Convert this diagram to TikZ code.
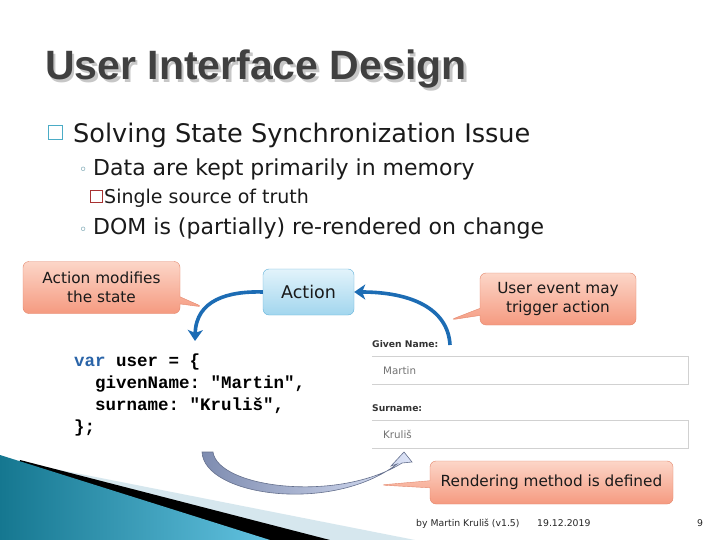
\documentclass[tikz,border=0pt]{standalone}
\usepackage{fontspec}
\setmainfont{DejaVu Sans}
\setmonofont{Liberation Mono}
\newfontfamily\titlefont{Liberation Sans}
\usetikzlibrary{shapes.callouts,arrows.meta,positioning}

\definecolor{titlegray}{HTML}{404040}
\definecolor{bodytext}{HTML}{1A1A1A}
\definecolor{bulletteal}{HTML}{4BACC6}
\definecolor{bulletred}{HTML}{A83232}
\definecolor{notetop}{HTML}{FCD6C8}
\definecolor{notebottom}{HTML}{F59A80}
\definecolor{noteline}{HTML}{E4876C}
\definecolor{acttop}{HTML}{E2F3FB}
\definecolor{actbottom}{HTML}{A2D6EE}
\definecolor{actline}{HTML}{62B2DA}
\definecolor{flowblue}{HTML}{1C6CB4}
\definecolor{codeblue}{HTML}{2A64A8}
\definecolor{renderdark}{HTML}{7E8CB0}
\definecolor{renderlight}{HTML}{DCE3F7}
\definecolor{bandteal}{HTML}{157790}
\definecolor{bandcyan}{HTML}{62C2E0}
\definecolor{bandlight}{HTML}{D6E7EE}

\tikzset{
  line1/.style={anchor=base west, inner sep=0pt, text=bodytext, font=\fontsize{25.6}{30}\selectfont},
  line2/.style={anchor=base west, inner sep=0pt, text=bodytext, font=\fontsize{22}{26}\selectfont},
  line3/.style={anchor=base west, inner sep=0pt, text=bodytext, font=\fontsize{19}{22}\selectfont},
  dot/.style={anchor=base west, inner sep=0pt, text=bulletteal!70!black, font=\fontsize{14}{16}\selectfont},
  notebox/.style={rectangle callout, draw=noteline, rounded corners=6pt, top color=notetop,
    bottom color=notebottom, align=center, text=bodytext, font=\fontsize{15.3}{19}\selectfont},
  codeline/.style={anchor=base west, inner sep=0pt, font=\ttfamily\bfseries\fontsize{17.5}{20}\selectfont},
  formlabel/.style={anchor=base west, inner sep=0pt, text=black!80, font=\bfseries\fontsize{9.2}{11}\selectfont},
  formvalue/.style={anchor=base west, inner sep=0pt, text=black!55, font=\fontsize{10.3}{12}\selectfont},
  foot/.style={anchor=base west, inner sep=0pt, text=black!85, font=\fontsize{9.3}{11}\selectfont},
  flow/.style={flowblue, line width=3.6pt, -{Stealth[length=11pt,width=15pt,inset=3pt]}}
}

\begin{document}
\begin{tikzpicture}[x=1pt, y=-1pt]
\useasboundingbox[fill=white] (0,0) rectangle (720,540);

% bottom corner band
\fill[bandlight] (40,466) -- (415,540) -- (0,540) -- cycle;
\fill[black] (20,460) -- (330,540) -- (0,540) -- cycle;
\shade[left color=bandteal, right color=bandcyan] (0,455) -- (270,540) -- (0,540) -- cycle;

% title
\node[anchor=base west, inner sep=0pt, text=black!22, font=\titlefont\bfseries\fontsize{41}{41}\selectfont] (titleshadow) at (47.5,82.5) {User Interface Design};
\node[anchor=base west, inner sep=0pt, text=titlegray, font=\titlefont\bfseries\fontsize{41}{41}\selectfont] (title) at (45,80) {User Interface Design};

% bullets
\node[draw=bulletteal, line width=1pt, minimum size=14pt, inner sep=0pt] (box1) at (55,133) {};
\node[line1] (issue) at (73,143) {Solving State Synchronization Issue};
\node[dot] (dot1) at (79,175) {◦};
\node[line2] (memory) at (93,176) {Data are kept primarily in memory};
\node[draw=bulletred, line width=1pt, minimum size=12pt, inner sep=0pt] (box2) at (96,197) {};
\node[line3] (truth) at (104,204) {Single source of truth};
\node[dot] (dot2) at (79,234) {◦};
\node[line2] (dom) at (93,235) {DOM is (partially) re-rendered on change};

% action and notes
\node[draw=actline, rounded corners=6pt, top color=acttop, bottom color=actbottom,
  minimum width=91pt, minimum height=46pt, text=bodytext, font=\fontsize{17.5}{20}\selectfont] (action) at (308.5,292) {Action};
\node[notebox, minimum width=157pt, minimum height=52pt, callout absolute pointer={(203,307)}] (modifies) at (101.5,287.5) {Action modifies\\the state};
\node[notebox, minimum width=156pt, minimum height=52pt, callout absolute pointer={(450,320)}] (trigger) at (558,299) {User event may\\trigger action};
\node[notebox, minimum width=243pt, minimum height=43pt, callout absolute pointer={(380,485)}] (render) at (551.5,482.5) {Rendering method is defined};

% state object
\node[codeline] (code1) at (74,366) {\textcolor{codeblue}{var} user = \{};
\node[codeline] (code2) at (74,388) {\ \ givenName: "Martin",};
\node[codeline] (code3) at (74,410) {\ \ surname: "Kruliš",};
\node[codeline] (code4) at (74,432) {\};};
\coordinate (codetop) at (195,341);

% form
\node[formlabel] (givenlabel) at (372,347) {Given Name:};
\node[minimum width=316pt, minimum height=28pt, inner sep=0pt] (givenfield) at (530,370) {};
\draw[black!18] (givenfield.north west) -- (givenfield.north east) -- (givenfield.south east) -- (givenfield.south west);
\node[formvalue] (givenvalue) at (383,374) {Martin};
\node[formlabel] (surlabel) at (372,411) {Surname:};
\node[minimum width=316pt, minimum height=28pt, inner sep=0pt] (surfield) at (530,434) {};
\draw[black!18] (surfield.north west) -- (surfield.north east) -- (surfield.south east) -- (surfield.south west);
\node[formvalue] (survalue) at (383,438) {Kruliš};
\coordinate (event) at (450,345);

% flow arrows
\draw[flow] (action.west) .. controls (228,291) and (196,300) .. (codetop);
\draw[flow] (event) .. controls (448,308) and (410,292) .. (action.east);

% rendering arrow
\shade[left color=renderdark, right color=renderlight, draw=renderdark!80!black, line width=0.6pt]
  (202,452) -- (213,452) .. controls (218,488) and (338,503) .. (402,463)
  -- (412,462) -- (404,452) -- (391,466) -- (397,464)
  .. controls (332,514) and (204,496) .. (202,452) -- cycle;

% footer
\node[foot] (author) at (416,526) {by Martin Kruliš (v1.5)};
\node[foot] (date) at (537,526) {19.12.2019};
\node[foot] (page) at (697,526) {9};
\end{tikzpicture}
\end{document}
